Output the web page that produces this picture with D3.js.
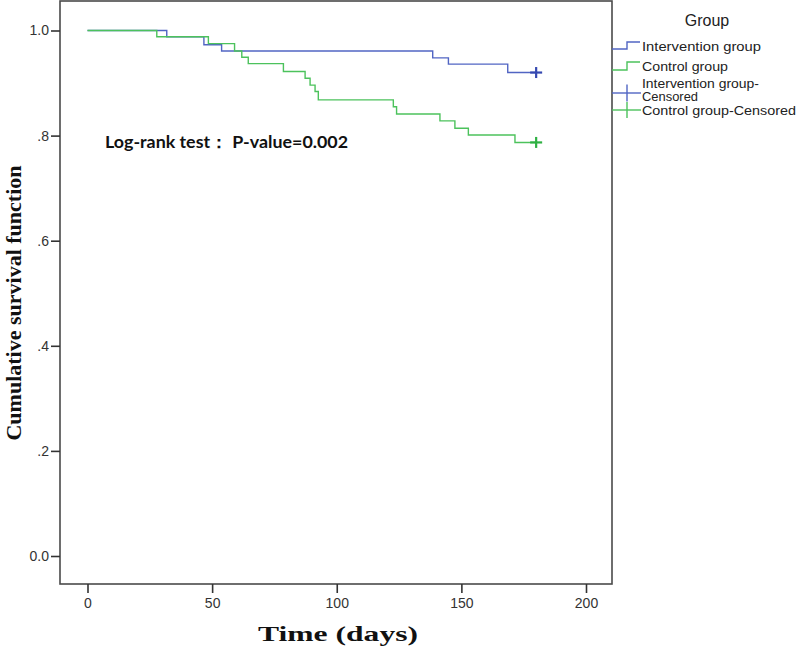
<!DOCTYPE html>
<html>
<head>
<meta charset="utf-8">
<script src="https://cdn.jsdelivr.net/npm/d3@7"></script>
<style>
  html, body { margin: 0; padding: 0; background: #fff; }
  svg { display: block; }
</style>
</head>
<body>
<svg id="chart" width="800" height="647"></svg>
<script>
// ---- data ----
const interventionTimes = [0, 31.8, 46.7, 53.8, 138.5, 144.8, 168.6, 180];
const interventionSurv  = [1.0, 0.988, 0.973, 0.961, 0.948, 0.936, 0.920, 0.920];
const controlTimes = [0, 27.8, 48.5, 59.0, 61.9, 64.5, 78.6, 87.3, 89.3, 91.3, 92.6, 122.7, 124.0, 141.4, 147.4, 152.8, 171.5, 180];
const controlSurv  = [1.0, 0.988, 0.975, 0.961, 0.949, 0.937, 0.922, 0.909, 0.896, 0.884, 0.868, 0.855, 0.841, 0.828, 0.814, 0.801, 0.787, 0.787];
const censorTimes = [180, 180];
const censorSurv  = [0.920, 0.787];
const groupNames = ["Intervention group", "Control group"];
const xTicks = [0, 50, 100, 150, 200];
const yTicks = [0, 0.2, 0.4, 0.6, 0.8, 1.0];
const yTickLabels = ["0.0", ".2", ".4", ".6", ".8", "1.0"];
const legendLabels = ["Intervention group", "Control group", "Intervention group-", "Censored", "Control group-Censored"];
const annotation = "Log-rank test\uFF1A P-value=0.002";

const colors = ["#5165c3", "#4cc25c"];
const censorColors = ["#3548b0", "#2fb043"];

const svg = d3.select("#chart");
const frame = {left: 60, right: 612, top: 1, bottom: 584};
const x = d3.scaleLinear().domain([0, 200]).range([87.5, 586]);
const y = d3.scaleLinear().domain([0, 1]).range([556, 30.5]);

// frame
svg.append("rect")
  .attr("x", frame.left).attr("y", frame.top)
  .attr("width", frame.right - frame.left).attr("height", frame.bottom - frame.top)
  .attr("fill", "none").attr("stroke", "#4a4a4a").attr("stroke-width", 1.6);

// axes
const yAxis = d3.axisLeft(y).tickValues(yTicks).tickSize(9).tickPadding(2)
  .tickFormat((d, i) => yTickLabels[i]);
const gy = svg.append("g").attr("transform", `translate(${frame.left},0)`).call(yAxis);
gy.select(".domain").remove();
gy.selectAll("line").attr("stroke", "#333").attr("stroke-width", 1.6);
gy.selectAll("text").attr("font-family", "Liberation Sans, Arial, sans-serif").attr("font-size", 14).attr("fill", "#333");

const xAxis = d3.axisBottom(x).tickValues(xTicks).tickSize(9).tickPadding(5).tickFormat(d3.format("d"));
const gx = svg.append("g").attr("transform", `translate(0,${frame.bottom})`).call(xAxis);
gx.select(".domain").remove();
gx.selectAll("line").attr("stroke", "#333").attr("stroke-width", 1.6);
gx.selectAll("text").attr("font-family", "Liberation Sans, Arial, sans-serif").attr("font-size", 14).attr("fill", "#333");

// axis titles
svg.append("text")
  .attr("transform", "translate(21,303) rotate(-90)")
  .attr("text-anchor", "middle")
  .attr("font-family", "Liberation Serif, Times New Roman, serif")
  .attr("font-weight", "bold").attr("font-size", 22).attr("fill", "#111")
  .text("Cumulative survival function");

svg.append("text")
  .attr("x", 258).attr("y", 641)
  .attr("font-family", "Liberation Serif, Times New Roman, serif")
  .attr("font-weight", "bold").attr("font-size", 22).attr("fill", "#111")
  .attr("textLength", 160).attr("lengthAdjust", "spacingAndGlyphs")
  .text("Time (days)");

// curves
const line = d3.line().x(d => x(d[0])).y(d => y(d[1])).curve(d3.curveStepAfter);
const series = [
  d3.zip(interventionTimes, interventionSurv),
  d3.zip(controlTimes, controlSurv)
];
[0, 1].forEach(i => {
  svg.append("path").datum(series[i])
    .attr("d", line).attr("fill", "none")
    .attr("stroke", colors[i]).attr("stroke-width", 1.4);
});

// censor marks
censorTimes.forEach((t, i) => {
  const cx = x(t), cy = y(censorSurv[i]);
  const g = svg.append("g").attr("stroke", censorColors[i]).attr("stroke-width", 2.2);
  g.append("line").attr("x1", cx - 6).attr("x2", cx + 6).attr("y1", cy).attr("y2", cy);
  g.append("line").attr("x1", cx).attr("x2", cx).attr("y1", cy - 5.5).attr("y2", cy + 5.5);
});

// annotation
svg.append("text")
  .attr("x", 105).attr("y", 148)
  .attr("font-family", "Lato, Open Sans, sans-serif")
  .attr("font-weight", "bold").attr("font-size", 17).attr("fill", "#111")
  .attr("textLength", 243).attr("lengthAdjust", "spacingAndGlyphs")
  .text(annotation);

// legend
const lg = svg.append("g").attr("font-family", "Liberation Sans, Arial, sans-serif").attr("fill", "#222");
lg.append("text").attr("x", 707).attr("y", 26).attr("text-anchor", "middle")
  .attr("font-size", 16).text("Group");

const lx0 = 612, lx1 = 641, lmid = 627;
[[49, 42], [70, 62]].forEach((yy, i) => {
  lg.append("path")
    .attr("d", `M${lx0},${yy[0]}H${lmid}V${yy[1]}H${lx1 - 1}`)
    .attr("fill", "none").attr("stroke", colors[i]).attr("stroke-width", 1.4);
});
[[93, 84.5, 101.5], [110, 102, 118]].forEach((yy, i) => {
  const g = lg.append("g").attr("stroke", colors[i]).attr("stroke-width", 1.4);
  g.append("line").attr("x1", lx0).attr("x2", lx1).attr("y1", yy[0]).attr("y2", yy[0]);
  g.append("line").attr("x1", lmid).attr("x2", lmid).attr("y1", yy[1]).attr("y2", yy[2]);
});
const textYs = [51, 71, 87.5, 101, 115];
const textWidths = [119, 86, 117, 56, 154];
const textSizes = [13.5, 13.5, 12, 12, 12];
legendLabels.forEach((s, i) => {
  lg.append("text").attr("x", 642).attr("y", textYs[i])
    .attr("font-size", textSizes[i]).attr("fill", "#222")
    .attr("textLength", textWidths[i]).attr("lengthAdjust", "spacingAndGlyphs")
    .text(s);
});
</script>
</body>
</html>
